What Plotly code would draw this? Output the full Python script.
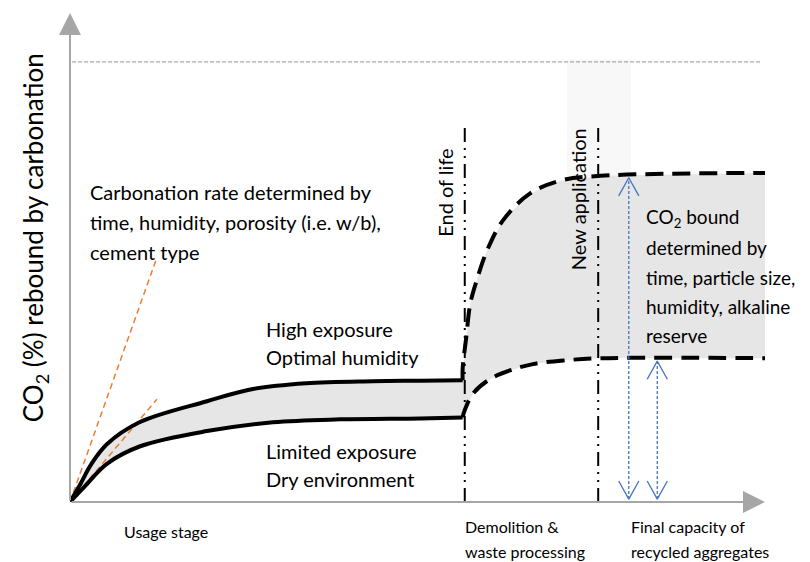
import plotly.graph_objects as go

# ---- data (conceptual units: x = time 0..100, y = CO2 % 0..100) ----
high_x = [0, 1.5, 3, 5.3, 10, 19.7, 26.3, 34, 43.6, 50.4, 56.5]
high_y = [0, 3.7, 7.6, 11.8, 16.3, 20.6, 23.1, 24.3, 24.7, 24.8, 24.9]
low_x = [0, 2.2, 5.3, 10.1, 19.7, 29.2, 38.9, 50.4, 56.5]
low_y = [0, 3.3, 7.8, 11.4, 14.5, 16.3, 16.9, 17.1, 17.3]
rec_high_x = [56.5, 56.5, 57.0, 57.6, 58.6, 60.0, 62.3, 66.2, 70.5, 76.3, 100.4]
rec_high_y = [24.9, 27.3, 33.5, 40.6, 45.7, 51.4, 57.6, 63.1, 65.7, 66.7, 67.3]
rec_low_x = [56.5, 56.8, 58.0, 60.4, 63.3, 66.6, 71.5, 76.3, 100.4]
rec_low_y = [17.3, 18.8, 22.2, 25.1, 26.9, 28.2, 29.0, 29.4, 29.4]
rate_fast = [12.5, 50.0]
rate_slow = [12.5, 21.0]
end_of_life_x = 56.8
new_app_x = 76.0
phase_top = 77.1
capacity_line = 90.0
arrow1_x, arrow1_top = 80.4, 66.3
arrow2_x, arrow2_top = 84.5, 28.8

rate_lines = ["Carbonation rate determined by", "time, humidity, porosity (i.e. w/b),",
              "cement type"]
high_lines = ["High exposure", "Optimal humidity"]
low_lines = ["Limited exposure", "Dry environment"]
bound_lines = ["CO<sub>2</sub> bound", "determined by", "time, particle size,",
               "humidity, alkaline", "reserve"]
bottom_labels = [(7.5, -6.0, ["Usage stage"]),
                 (56.5, -5.0, ["Demolition &", "waste processing"]),
                 (80.5, -5.0, ["Final capacity of", "recycled aggregates"])]
y_title = "CO<sub>2</sub> (%) rebound by carbonation"

BLACK = "#000000"
GREY = "#a6a6a6"
FILL = "#e6e6e6"
BLUE = "#4472c4"
ORANGE = "#ed7d31"
FONT = "Lato"
BODY = 20

fig = go.Figure()

# band fill
poly_x = high_x + rec_high_x + rec_low_x[::-1] + low_x[::-1]
poly_y = high_y + rec_high_y + rec_low_y[::-1] + low_y[::-1]
fig.add_trace(go.Scatter(x=poly_x, y=poly_y, fill="toself", fillcolor=FILL,
                         line=dict(width=0), mode="lines", hoverinfo="skip"))

# faint box behind "New application"
fig.add_shape(type="rect", x0=71.5, x1=80.7, y0=66.5, y1=90.5,
              fillcolor="#f8f8f8", line=dict(width=0), layer="below")

# top dashed grey line
fig.add_trace(go.Scatter(x=[0.3, 99.4], y=[capacity_line, capacity_line], mode="lines",
                         line=dict(color=GREY, width=1.2, dash="4px,2px")))

# orange rate lines
for r in (rate_fast, rate_slow):
    fig.add_trace(go.Scatter(x=[0, r[0]], y=[0, r[1]], mode="lines",
                             line=dict(color=ORANGE, width=1.5, dash="6px,4px")))

# vertical dash-dot lines
for vx in (end_of_life_x, new_app_x):
    fig.add_trace(go.Scatter(x=[vx, vx], y=[0, phase_top], mode="lines",
                             line=dict(color=BLACK, width=2,
                                       dash="14px,6px,2px,6px,2px,6px")))

# curves
fig.add_trace(go.Scatter(x=high_x, y=high_y, mode="lines", line_shape="spline",
                         line=dict(color=BLACK, width=4)))
fig.add_trace(go.Scatter(x=low_x, y=low_y, mode="lines", line_shape="spline",
                         line=dict(color=BLACK, width=4)))
fig.add_trace(go.Scatter(x=rec_high_x, y=rec_high_y, mode="lines", line_shape="spline",
                         line=dict(color=BLACK, width=4, dash="18px,9px")))
fig.add_trace(go.Scatter(x=rec_low_x, y=rec_low_y, mode="lines", line_shape="spline",
                         line=dict(color=BLACK, width=4, dash="18px,9px")))

# blue double arrows
hw, hl = 1.45, 3.7
for ax_, top in ((arrow1_x, arrow1_top), (arrow2_x, arrow2_top)):
    bot = 0.6
    fig.add_trace(go.Scatter(x=[ax_, ax_], y=[bot, top], mode="lines",
                             line=dict(color=BLUE, width=1.3, dash="3px,2px")))
    fig.add_trace(go.Scatter(x=[ax_ - hw, ax_, ax_ + hw], y=[bot + hl, bot, bot + hl],
                             mode="lines", line=dict(color=BLUE, width=1.3)))
    fig.add_trace(go.Scatter(x=[ax_ - hw, ax_, ax_ + hw], y=[top - hl, top, top - hl],
                             mode="lines", line=dict(color=BLUE, width=1.3)))

# axes arrows
fig.add_annotation(x=100, y=0, ax=0, ay=0, xref="x", yref="y", axref="x", ayref="y",
                   showarrow=True, arrowhead=2, arrowsize=2.2, arrowwidth=2,
                   arrowcolor=GREY, text="")
fig.add_annotation(x=0, y=100, ax=0, ay=0, xref="x", yref="y", axref="x", ayref="y",
                   showarrow=True, arrowhead=2, arrowsize=2.2, arrowwidth=2,
                   arrowcolor=GREY, text="")

def txt(x, y, s, size=BODY, angle=0, xanchor="left"):
    # x, y in data units (axes span 0..100), converted to paper fractions
    fig.add_annotation(x=x / 100, y=y / 100, xref="paper", yref="paper", text=s,
                       showarrow=False, xanchor=xanchor, yanchor="middle",
                       textangle=angle,
                       font=dict(family=FONT, size=size, color=BLACK))

for i, s in enumerate(rate_lines):
    txt(2.6, 63.3 - i * 6.1, s)
for i, s in enumerate(high_lines):
    txt(27.9, 35.3 - i * 5.7, s)
for i, s in enumerate(low_lines):
    txt(27.9, 10.4 - i * 5.7, s)
for i, s in enumerate(bound_lines):
    txt(82.6, 58.0 - i * 6.0, s, size=19)

txt(54.0, 63.3, "End of life", angle=-90, xanchor="center")
txt(73.0, 62.0, "New application", angle=-90, xanchor="center")

for x0, y0, lines in bottom_labels:
    for i, s in enumerate(lines):
        txt(x0, y0 - i * 5.1, s, size=16)

txt(-5.0, 54.0, y_title, size=26, angle=-90, xanchor="center")

# page body has an 8px margin: shrink canvas so the plot area lands as in the reference
fig.update_layout(
    width=802, height=554, showlegend=False,
    plot_bgcolor="white", paper_bgcolor="white",
    margin=dict(l=62, r=45, t=5, b=60),
    xaxis=dict(range=[0, 100], visible=False),
    yaxis=dict(range=[0, 100], visible=False),
)
fig.write_html("out.html")
